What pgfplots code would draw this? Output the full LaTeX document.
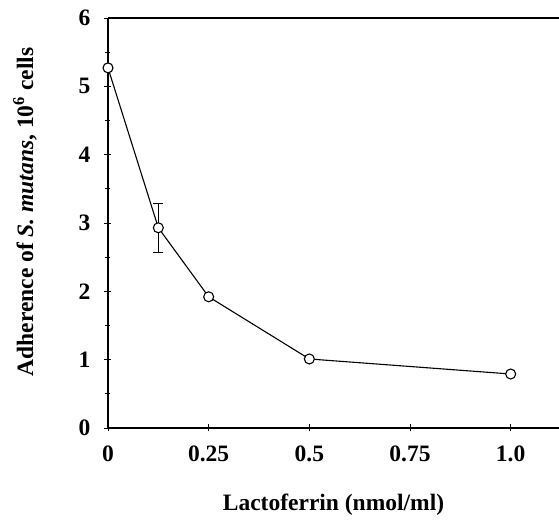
\documentclass[border=0pt]{standalone}
\usepackage{pgfplots}
\pgfplotsset{compat=1.18}
\usepackage{fontspec}
\setmainfont{Liberation Serif}
\begin{document}
\begin{tikzpicture}
\begin{axis}[
  scale only axis, width=451pt, height=410pt,
  xmin=0, xmax=1.12, ymin=0, ymax=6,
  separate axis lines,
  axis x line*=box, axis y line*=left,
  axis line style={line width=1.4pt},
  tick pos=left,
  tick align=center,
  major tick length=7pt, minor tick length=5pt,
  every tick/.style={line width=0.8pt, black},
  xtick={0,0.25,0.5,0.75,1.0},
  xticklabels={0,0.25,0.5,0.75,1.0},
  ytick={0,1,2,3,4,5,6},
  minor y tick num=1,
  /pgf/number format/assume math mode=true,
  tick label style={font=\fontsize{23.5}{27}\selectfont\bfseries},
  xticklabel style={anchor=north, inner sep=0pt, yshift=-14pt},
  yticklabel style={anchor=east, inner sep=0pt, xshift=-14pt},
  label style={font=\fontsize{23.5}{27}\selectfont\bfseries},
  xlabel={Lactoferrin (nmol/ml)},
  ylabel={Adherence of \textit{S. mutans}, 10\textsuperscript{6} cells},
  xlabel style={at={([yshift=-83pt]axis description cs:0.5,0)}, anchor=base, inner sep=0pt},
  ylabel style={at={([xshift=-83pt,yshift=11pt]axis description cs:0,0.5)}, anchor=center, inner sep=0pt},
  clip=false,
]
\addplot[black, line width=1.1pt, mark=*, mark size=5pt,
  mark options={fill=white, draw=black, line width=1.1pt},
  error bars/.cd, y dir=both, y explicit,
  error bar style={line width=1pt}, error mark options={rotate=90, mark size=5pt, line width=1pt}]
  coordinates {
  (0,5.27) +- (0,0)
  (0.125,2.93) +- (0,0.36)
  (0.25,1.92) +- (0,0)
  (0.5,1.01) +- (0,0)
  (1.0,0.79) +- (0,0)
};
\coordinate (sw) at (rel axis cs:0,0);
\coordinate (ne) at (rel axis cs:1,1);
\end{axis}
\pgfresetboundingbox
\path ([shift={(-108pt,-94pt)}]sw) rectangle ([shift={(0pt,18pt)}]ne);
\end{tikzpicture}
\end{document}
